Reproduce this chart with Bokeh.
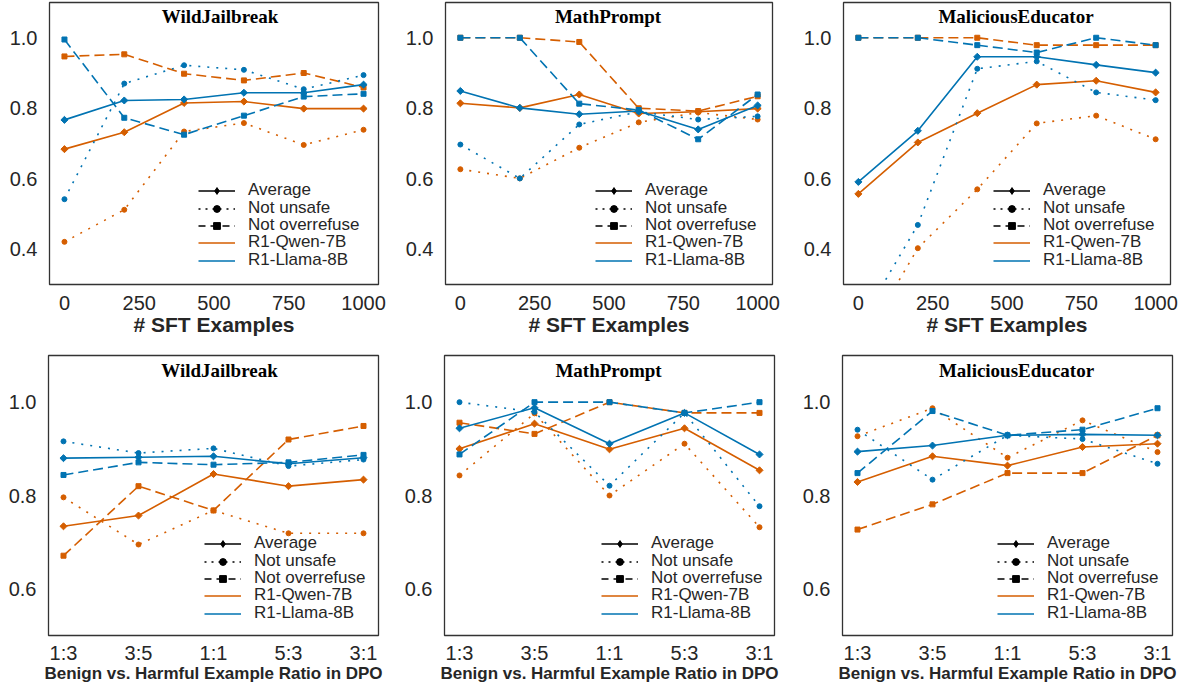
import numpy as np
from bokeh.plotting import figure
from bokeh.layouts import row, column
from bokeh.models import Range1d, Legend, LegendItem, Label, FixedTicker
from bokeh.embed import file_html
from bokeh.resources import INLINE

# ---------------- data ----------------
SFT_X = [0, 200, 400, 600, 800, 1000]
SFT_TICKS = [0, 250, 500, 750, 1000]
RATIOS = ["1:3", "3:5", "1:1", "5:3", "3:1"]
TITLES = ["WildJailbreak", "MathPrompt", "MaliciousEducator"]
SFT_LABEL = "# SFT Examples"
DPO_LABEL = "Benign vs. Harmful Example Ratio in DPO"
LEGEND_LABELS = ["Average", "Not unsafe", "Not overrefuse", "R1-Qwen-7B", "R1-Llama-8B"]

# WildJailbreak, SFT
wj_sft_qwen_avg = [0.684, 0.732, 0.815, 0.819, 0.799, 0.799]
wj_sft_qwen_unsafe = [0.421, 0.512, 0.734, 0.758, 0.696, 0.739]
wj_sft_qwen_over = [0.947, 0.953, 0.898, 0.879, 0.900, 0.859]
wj_sft_llama_avg = [0.767, 0.822, 0.825, 0.844, 0.844, 0.867]
wj_sft_llama_unsafe = [0.542, 0.870, 0.922, 0.909, 0.854, 0.894]
wj_sft_llama_over = [0.995, 0.773, 0.725, 0.779, 0.833, 0.841]

# MathPrompt, SFT
mp_sft_qwen_avg = [0.814, 0.801, 0.839, 0.785, 0.790, 0.799]
mp_sft_qwen_unsafe = [0.627, 0.601, 0.688, 0.760, 0.788, 0.768]
mp_sft_qwen_over = [1.000, 1.000, 0.988, 0.800, 0.792, 0.834]
mp_sft_llama_avg = [0.849, 0.801, 0.783, 0.792, 0.740, 0.808]
mp_sft_llama_unsafe = [0.697, 0.601, 0.754, 0.790, 0.768, 0.777]
mp_sft_llama_over = [1.000, 1.000, 0.813, 0.795, 0.712, 0.839]

# MaliciousEducator, SFT
me_sft_qwen_avg = [0.557, 0.703, 0.786, 0.867, 0.878, 0.845]
me_sft_qwen_unsafe = [0.114, 0.403, 0.570, 0.757, 0.779, 0.712]
me_sft_qwen_over = [1.000, 1.000, 1.000, 0.979, 0.979, 0.979]
me_sft_llama_avg = [0.591, 0.736, 0.946, 0.946, 0.923, 0.901]
me_sft_llama_unsafe = [0.182, 0.469, 0.912, 0.933, 0.845, 0.823]
me_sft_llama_over = [1.000, 1.000, 0.979, 0.958, 1.000, 0.979]

# WildJailbreak, DPO
wj_dpo_qwen_avg = [0.734, 0.757, 0.846, 0.820, 0.834]
wj_dpo_qwen_unsafe = [0.796, 0.695, 0.768, 0.719, 0.719]
wj_dpo_qwen_over = [0.671, 0.820, 0.768, 0.920, 0.949]
wj_dpo_llama_avg = [0.880, 0.882, 0.884, 0.868, 0.881]
wj_dpo_llama_unsafe = [0.916, 0.891, 0.901, 0.863, 0.877]
wj_dpo_llama_over = [0.844, 0.871, 0.866, 0.871, 0.887]

# MathPrompt, DPO
mp_dpo_qwen_avg = [0.900, 0.954, 0.899, 0.944, 0.854]
mp_dpo_qwen_unsafe = [0.843, 0.976, 0.800, 0.911, 0.732]
mp_dpo_qwen_over = [0.956, 0.932, 1.000, 0.977, 0.977]
mp_dpo_llama_avg = [0.944, 0.988, 0.911, 0.977, 0.888]
mp_dpo_llama_unsafe = [1.000, 0.979, 0.821, 0.977, 0.777]
mp_dpo_llama_over = [0.888, 1.000, 1.000, 0.977, 1.000]

# MaliciousEducator, DPO
me_dpo_qwen_avg = [0.829, 0.884, 0.864, 0.904, 0.911]
me_dpo_qwen_unsafe = [0.927, 0.987, 0.881, 0.961, 0.893]
me_dpo_qwen_over = [0.727, 0.781, 0.848, 0.848, 0.929]
me_dpo_llama_avg = [0.894, 0.907, 0.929, 0.931, 0.929]
me_dpo_llama_unsafe = [0.941, 0.834, 0.929, 0.921, 0.868]
me_dpo_llama_over = [0.848, 0.981, 0.929, 0.941, 0.987]

# ---------------- style ----------------
ORANGE = "#d55e00"
BLUE = "#0173b2"
TXT = "#262626"
SANS = "Liberation Sans"
SERIF = "Liberation Serif"
DOT = "2 7"
DASH = "10 5"
LW = 1.6
NAN = [float("nan")]


def draw_model(p, x, avg, unsafe, over, color):
    p.line(x, unsafe, color=color, line_width=LW, line_dash=DOT)
    p.scatter(x, unsafe, marker="circle", size=5, color=color)
    p.line(x, over, color=color, line_width=LW, line_dash=DASH)
    p.scatter(x, over, marker="square", size=5, color=color)
    p.line(x, avg, color=color, line_width=LW)
    p.scatter(x, avg, marker="square", angle=np.pi / 4, size=5, color=color)


def make_panel(title, x, qwen, llama, xr, yr, yticks, xticks, xlabels,
               xlabel, xlabel_size, width, height, bl, br, bt, bb,
               xstand, lstand, leg_x, leg_y, title_y, title_dx):
    p = figure(width=width, height=height, output_backend="svg", toolbar_location=None,
               x_range=Range1d(*xr), y_range=Range1d(*yr),
               min_border_left=bl, min_border_right=br, min_border_top=bt, min_border_bottom=bb)
    p.xgrid.visible = False
    p.ygrid.visible = False
    p.outline_line_color = "#333333"
    p.outline_line_width = 1.3
    p.background_fill_color = "white"
    p.border_fill_color = "white"

    for ax in (p.xaxis[0], p.yaxis[0]):
        ax.major_tick_line_color = None
        ax.minor_tick_line_color = None
        ax.major_tick_out = 0
        ax.major_tick_in = 0
        ax.axis_line_color = None
        ax.major_label_text_font = SANS
        ax.major_label_text_font_size = "20px"
        ax.major_label_text_color = TXT
        ax.major_label_text_line_height = 1.0
    p.xaxis.major_label_standoff = xstand
    p.yaxis.major_label_standoff = 12

    p.yaxis.ticker = FixedTicker(ticks=yticks)
    p.yaxis.major_label_overrides = {t: f"{t:.1f}" for t in yticks}
    p.xaxis.ticker = FixedTicker(ticks=xticks)
    p.xaxis.major_label_overrides = {t: str(l) for t, l in zip(xticks, xlabels)}
    p.xaxis.axis_label = xlabel
    p.xaxis.axis_label_text_font = SANS
    p.xaxis.axis_label_text_font_style = "bold"
    p.xaxis.axis_label_text_font_size = xlabel_size
    p.xaxis.axis_label_text_color = TXT
    p.xaxis.axis_label_text_line_height = 1.0
    p.xaxis.axis_label_standoff = lstand

    draw_model(p, x, *qwen, ORANGE)
    draw_model(p, x, *llama, BLUE)

    # legend proxies (no visible data)
    proxies = [
        [p.line(NAN, NAN, color="black", line_width=LW),
         p.scatter(NAN, NAN, marker="diamond", size=10, color="black")],
        [p.line(NAN, NAN, color="black", line_width=LW, line_dash="2 5"),
         p.scatter(NAN, NAN, marker="circle", size=7, color="black")],
        [p.line(NAN, NAN, color="black", line_width=LW, line_dash="7 5"),
         p.scatter(NAN, NAN, marker="square", size=6.5, color="black")],
        [p.line(NAN, NAN, color=ORANGE, line_width=LW)],
        [p.line(NAN, NAN, color=BLUE, line_width=LW)],
    ]
    n = len(LEGEND_LABELS)
    for k, (lab, rends) in enumerate(zip(LEGEND_LABELS, proxies)):
        legend = Legend(items=[LegendItem(label=lab, renderers=rends)],
                        location=(leg_x, int(round(leg_y + (n - 1 - k) * 17.5))),
                        border_line_color=None, background_fill_alpha=0,
                        padding=0, margin=0, spacing=0, glyph_width=37, glyph_height=17,
                        label_height=17, label_standoff=13, label_text_font=SANS,
                        label_text_font_size="17px", label_text_color=TXT)
        p.add_layout(legend)

    p.add_layout(Label(x=(xr[0] + xr[1]) / 2, y=title_y, x_offset=title_dx, text=title,
                       text_font=SERIF, text_font_style="bold", text_font_size="19px",
                       text_align="center", text_baseline="middle", text_color="black"))
    return p


sft_sets = [
    ((wj_sft_qwen_avg, wj_sft_qwen_unsafe, wj_sft_qwen_over),
     (wj_sft_llama_avg, wj_sft_llama_unsafe, wj_sft_llama_over)),
    ((mp_sft_qwen_avg, mp_sft_qwen_unsafe, mp_sft_qwen_over),
     (mp_sft_llama_avg, mp_sft_llama_unsafe, mp_sft_llama_over)),
    ((me_sft_qwen_avg, me_sft_qwen_unsafe, me_sft_qwen_over),
     (me_sft_llama_avg, me_sft_llama_unsafe, me_sft_llama_over)),
]
dpo_sets = [
    ((wj_dpo_qwen_avg, wj_dpo_qwen_unsafe, wj_dpo_qwen_over),
     (wj_dpo_llama_avg, wj_dpo_llama_unsafe, wj_dpo_llama_over)),
    ((mp_dpo_qwen_avg, mp_dpo_qwen_unsafe, mp_dpo_qwen_over),
     (mp_dpo_llama_avg, mp_dpo_llama_unsafe, mp_dpo_llama_over)),
    ((me_dpo_qwen_avg, me_dpo_qwen_unsafe, me_dpo_qwen_over),
     (me_dpo_llama_avg, me_dpo_llama_unsafe, me_dpo_llama_over)),
]

top_geom = [(400, 49, 22), (395, 45, 23), (390, 48, 15)]
bot_geom = [(400, 48, 22), (395, 44, 21), (390, 47, 13)]
top_leg = [149, 150, 150]
bot_leg = [156, 157, 155]
title_dx = [6, -1, 9]

ratio_x = list(range(len(RATIOS)))

top = []
for i, (q, l) in enumerate(sft_sets):
    w, bl, br = top_geom[i]
    top.append(make_panel(TITLES[i], SFT_X, q, l, (-50, 1050), (0.3, 1.1),
                          [0.4, 0.6, 0.8, 1.0], SFT_TICKS, SFT_TICKS, SFT_LABEL, "21px",
                          w, 348, bl, br, 2, 64, 11, 0, top_leg[i], 14, 1.06, title_dx[i]))
bottom = []
for i, (q, l) in enumerate(dpo_sets):
    w, bl, br = bot_geom[i]
    bottom.append(make_panel(TITLES[i], ratio_x, q, l, (-0.2, 4.2), (0.5, 1.1),
                             [0.6, 0.8, 1.0], ratio_x, RATIOS, DPO_LABEL, "17px",
                             w, 342, bl, br, 7, 55, 6, -3, bot_leg[i], 12, 1.068, title_dx[i]))

layout = column(row(*top), row(*bottom))

open("out.html", "w").write(file_html(layout, INLINE))
